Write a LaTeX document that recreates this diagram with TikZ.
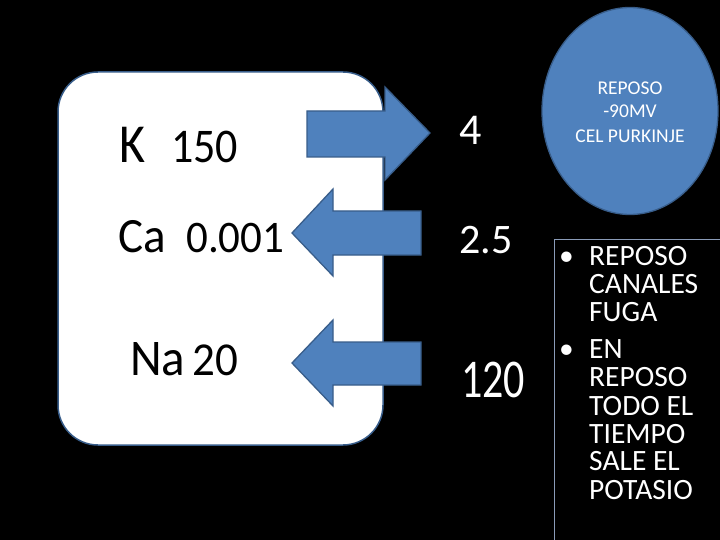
\documentclass[tikz,border=0pt]{standalone}
\usepackage{fontspec}
\setmainfont{Carlito}
\usetikzlibrary{shapes.geometric}
\definecolor{ofblue}{HTML}{4F81BD}
\definecolor{ofdark}{HTML}{385D8A}
\definecolor{boxline}{HTML}{8A9BB8}
\tikzset{
  fatarrow/.style={fill=ofblue, draw=ofdark, line width=1.3pt, line join=miter},
  lbl/.style={anchor=base west, inner sep=0pt, text=black},
  wlbl/.style={anchor=base west, inner sep=0pt, text=white},
  bl/.style={anchor=base west, inner sep=0pt, text=white, font=\fontsize{29.5}{29.5}\selectfont},
  el/.style={text=white, inner sep=0pt, anchor=base, font=\fontsize{19.5}{19.5}\selectfont},
}
\newcommand{\fsz}[1]{\fontsize{#1}{#1}\selectfont}
\begin{document}
\begin{tikzpicture}[x=1pt,y=-1pt]
\useasboundingbox (0,0) rectangle (720,540);
\fill[black] (0,0) rectangle (720,540);
% cell box
\draw[fill=white, draw=ofdark, line width=1.5pt, rounded corners=40pt] (58,72) rectangle (383,445);
% arrows
\draw[fatarrow] (307,111) -- (385,111) -- (385,87) -- (430,133) -- (385,180) -- (385,157) -- (307,157) -- cycle;
\draw[fatarrow] (421,211) -- (333,211) -- (333,189) -- (292,233) -- (333,276) -- (333,255) -- (421,255) -- cycle;
\draw[fatarrow] (421,342) -- (333,342) -- (333,320) -- (292,363) -- (333,406) -- (333,385) -- (421,385) -- cycle;
% inside labels
\node[lbl, yscale=1.1, transform shape] (k) at (119,163) {\fsz{50}K};
\node[lbl, yscale=1.1, transform shape] (k150) at (171,163) {\fsz{44}150};
\node[lbl, yscale=1.05, transform shape] (ca) at (118,252) {\fsz{47}Ca};
\node[lbl, yscale=1.05, transform shape] (ca001) at (186,252) {\fsz{43}0.001};
\node[lbl, yscale=1.05, transform shape] (na) at (130,375) {\fsz{49}Na};
\node[lbl, yscale=1.05, transform shape] (na20) at (192,375) {\fsz{45}20};
% outside labels
\node[wlbl] (o4) at (459,145) {\fsz{44}4};
\node[wlbl] (o25) at (459,253) {\fsz{42}2.5};
\node[wlbl, yscale=1.3, transform shape] (o120) at (461,397) {\fsz{42}120};
% ellipse
\node[ellipse, fill=ofblue, draw=ofdark, line width=1.3pt, minimum width=176pt, minimum height=207pt, inner sep=0pt] (cel) at (630,111) {};
\node[el] (e1) at (630,95) {REPOSO};
\node[el] (e2) at (630,118) {-90MV};
\node[el] (e3) at (630,143) {CEL PURKINJE};
% text box
\draw[boxline, line width=0.8pt] (720,239) -- (554,239) -- (554,540);
\node[bl] (b1) at (559,265) {\textbullet};
\node[bl] (t1a) at (589,265) {REPOSO};
\node[bl] (t1b) at (589,293.3) {CANALES};
\node[bl] (t1c) at (589,321.7) {FUGA};
\node[bl] (b2) at (559,358) {\textbullet};
\node[bl] (t2a) at (589,358) {EN};
\node[bl] (t2b) at (589,386.7) {REPOSO};
\node[bl] (t2c) at (589,415) {TODO EL};
\node[bl] (t2d) at (589,443) {TIEMPO};
\node[bl] (t2e) at (589,470.7) {SALE EL};
\node[bl] (t2f) at (589,499) {POTASIO};
\end{tikzpicture}
\end{document}
